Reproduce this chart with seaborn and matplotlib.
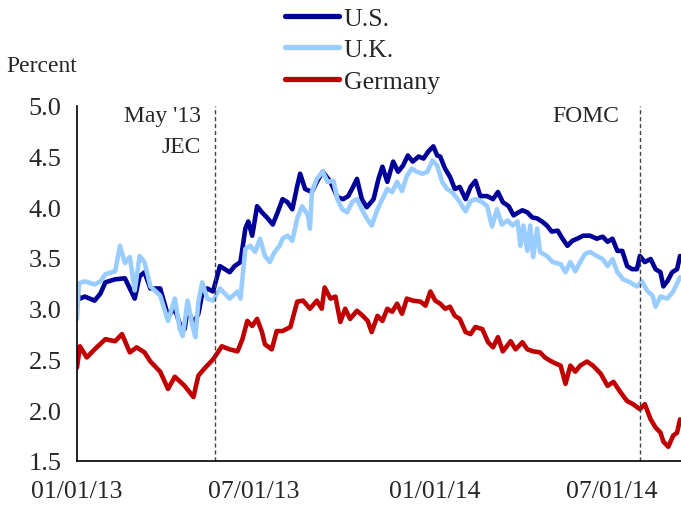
import pandas as pd
import matplotlib
matplotlib.use("Agg")
import matplotlib.pyplot as plt
import matplotlib.dates as mdates
import seaborn as sns

# 10-year government bond yields.
# Day offsets are counted from 01/01/13.
us_days = [0, 3, 8, 18, 24, 29, 39, 49, 54, 59, 64, 69, 75, 85, 93, 100, 105, 110, 113,
           119, 124, 128, 133, 139, 146, 156, 161, 167, 172, 175, 179, 184, 189, 194,
           200, 205, 210, 215, 220, 225, 228, 233, 240, 245, 251, 259, 266, 272, 277,
           281, 286, 291, 296, 303, 308, 312, 317, 323, 328, 333, 338, 343, 349, 354,
           359, 364, 368, 371, 376, 381, 386, 391, 397, 402, 407, 412, 419, 425, 430,
           435, 441, 446, 451, 455, 460, 465, 470, 475, 480, 485, 491, 496, 501, 506,
           511, 517, 524, 531, 537, 542, 547, 552, 557, 562, 567, 572, 575, 580, 586,
           591, 596, 599, 603, 608, 613, 616]
us_vals = [3.15, 3.10, 3.12, 3.08, 3.15, 3.26, 3.29, 3.30, 3.20, 3.10, 3.32, 3.36, 3.20,
           3.20, 2.93, 3.00, 2.85, 2.80, 3.00, 2.85, 2.95, 3.15, 3.20, 3.17, 3.42, 3.36,
           3.42, 3.46, 3.79, 3.86, 3.72, 4.01, 3.95, 3.90, 3.83, 3.95, 4.08, 4.05, 3.98,
           4.21, 4.33, 4.18, 4.15, 4.25, 4.35, 4.25, 4.10, 4.08, 4.11, 4.18, 4.28, 4.08,
           4.00, 4.08, 4.28, 4.40, 4.25, 4.45, 4.35, 4.41, 4.51, 4.45, 4.50, 4.48, 4.55,
           4.60, 4.51, 4.50, 4.38, 4.30, 4.18, 4.20, 4.08, 4.20, 4.26, 4.11, 4.11, 4.08,
           4.15, 4.05, 4.01, 3.92, 3.95, 3.97, 3.95, 3.90, 3.89, 3.86, 3.82, 3.76, 3.77,
           3.69, 3.62, 3.67, 3.69, 3.72, 3.72, 3.69, 3.71, 3.66, 3.69, 3.57, 3.57, 3.42,
           3.39, 3.39, 3.52, 3.46, 3.49, 3.39, 3.36, 3.22, 3.27, 3.36, 3.39, 3.52]

uk_days = [0, 2, 8, 18, 24, 29, 39, 44, 49, 54, 59, 64, 69, 75, 85, 93, 100, 105, 108,
           113, 118, 121, 124, 128, 133, 139, 146, 156, 164, 167, 172, 177, 182, 187,
           192, 197, 202, 207, 210, 215, 220, 225, 230, 236, 238, 240, 245, 251, 256,
           262, 266, 271, 276, 281, 286, 291, 296, 301, 307, 312, 317, 322, 327, 332,
           337, 342, 347, 353, 358, 363, 368, 373, 378, 383, 389, 397, 402, 407, 414,
           419, 424, 429, 434, 440, 445, 450, 453, 456, 460, 463, 466, 470, 473, 480,
           486, 494, 499, 504, 509, 514, 519, 524, 531, 537, 542, 547, 552, 558, 565,
           572, 577, 583, 588, 591, 596, 603, 609, 616]
uk_vals = [2.90, 3.25, 3.27, 3.24, 3.27, 3.34, 3.37, 3.62, 3.45, 3.51, 3.18, 3.52, 3.46,
           3.22, 3.13, 2.88, 3.10, 2.80, 2.73, 3.08, 2.83, 2.72, 3.07, 3.26, 3.10, 3.08,
           3.20, 3.10, 3.17, 3.10, 3.59, 3.62, 3.56, 3.69, 3.52, 3.46, 3.56, 3.62, 3.69,
           3.72, 3.67, 3.89, 4.01, 3.92, 3.79, 4.15, 4.28, 4.35, 4.25, 4.26, 4.08, 3.98,
           3.95, 4.05, 4.08, 3.98, 3.89, 3.82, 3.98, 4.08, 4.18, 4.15, 4.25, 4.16, 4.31,
           4.38, 4.35, 4.33, 4.35, 4.46, 4.41, 4.25, 4.18, 4.15, 4.08, 3.96, 4.06, 4.08,
           4.05, 4.01, 3.81, 3.98, 3.83, 3.87, 3.82, 3.86, 3.62, 3.82, 3.57, 3.82, 3.51,
           3.79, 3.56, 3.52, 3.46, 3.44, 3.36, 3.46, 3.37, 3.46, 3.54, 3.56, 3.52, 3.49,
           3.42, 3.49, 3.36, 3.29, 3.26, 3.22, 3.27, 3.17, 3.13, 3.02, 3.12, 3.10, 3.17,
           3.31]

de_days = [0, 3, 10, 18, 29, 39, 46, 54, 61, 69, 75, 85, 93, 100, 110, 119, 124, 131,
           139, 148, 156, 164, 169, 174, 179, 184, 189, 192, 199, 204, 210, 218, 225,
           231, 238, 245, 250, 253, 259, 264, 269, 274, 279, 286, 292, 297, 301, 307,
           312, 317, 322, 327, 332, 337, 343, 351, 356, 361, 366, 371, 376, 381, 386,
           391, 397, 402, 407, 414, 420, 425, 430, 435, 443, 448, 455, 460, 466, 473,
           478, 483, 489, 494, 499, 504, 509, 514, 521, 527, 535, 542, 548, 555, 562,
           568, 575, 580, 586, 591, 596, 599, 604, 609, 613, 616]
de_vals = [2.42, 2.63, 2.52, 2.60, 2.70, 2.68, 2.75, 2.57, 2.62, 2.57, 2.48, 2.38, 2.21,
           2.33, 2.24, 2.13, 2.34, 2.42, 2.50, 2.63, 2.60, 2.58, 2.70, 2.88, 2.83, 2.90,
           2.77, 2.65, 2.60, 2.78, 2.78, 2.82, 3.07, 3.08, 3.00, 3.08, 3.00, 3.21, 3.10,
           3.12, 2.87, 3.00, 2.90, 2.98, 2.93, 2.88, 2.77, 2.93, 2.88, 3.00, 2.97, 3.05,
           2.95, 3.10, 3.08, 3.07, 3.03, 3.17, 3.08, 3.05, 3.00, 3.02, 2.93, 2.90, 2.77,
           2.75, 2.82, 2.80, 2.67, 2.62, 2.72, 2.58, 2.68, 2.60, 2.67, 2.60, 2.58, 2.57,
           2.52, 2.49, 2.46, 2.44, 2.26, 2.44, 2.38, 2.44, 2.48, 2.44, 2.36, 2.24, 2.28,
           2.18, 2.09, 2.06, 2.01, 2.06, 1.91, 1.83, 1.78, 1.69, 1.64, 1.75, 1.78, 1.91]

countries = ["U.S.", "U.K.", "Germany"]
colors = ["#000099", "#99CCFF", "#C00000"]

start = pd.Timestamp("2013-01-01")
frames = []
for name, days, vals in [("U.S.", us_days, us_vals), ("U.K.", uk_days, uk_vals),
                         ("Germany", de_days, de_vals)]:
    frames.append(pd.DataFrame({
        "date": start + pd.to_timedelta(days, unit="D"),
        "value": vals,
        "country": name,
    }))
df = pd.concat(frames, ignore_index=True)

sns.set_style("white")
plt.rcParams["font.family"] = ["Liberation Serif", "DejaVu Serif"]

fig = plt.figure(figsize=(6.81, 5.06), dpi=100)
ax = fig.add_axes([0.113, 0.087, 0.887, 0.702])

sns.lineplot(data=df, x="date", y="value", hue="country", hue_order=countries,
             palette=colors, linewidth=3.3, ax=ax)
for line in ax.get_lines():
    line.set_solid_joinstyle("round")
    line.set_solid_capstyle("round")

# event lines
ax.axvline(pd.Timestamp("2013-05-22"), color="#444444", lw=1.0, ls=(0, (3, 2)))
ax.axvline(pd.Timestamp("2014-07-30"), color="#444444", lw=1.0, ls=(0, (3, 2)))

ax.set_xlim(start, start + pd.Timedelta(days=617))
ax.set_ylim(1.5, 5.0)
ax.set_yticks([1.5, 2.0, 2.5, 3.0, 3.5, 4.0, 4.5, 5.0])
ax.yaxis.set_major_formatter(plt.FormatStrFormatter("%.1f"))
ax.set_xticks([pd.Timestamp(d) for d in ["2013-01-01", "2013-07-01", "2014-01-01", "2014-07-01"]])
ax.xaxis.set_major_formatter(mdates.DateFormatter("%m/%d/%y"))
ax.set_xlabel("")
ax.set_ylabel("")

sns.despine(ax=ax)
for s in ["left", "bottom"]:
    ax.spines[s].set_linewidth(1.2)
    ax.spines[s].set_color("black")
ax.tick_params(axis="y", direction="in", length=6, width=1.2, pad=11, labelsize=19)
ax.tick_params(axis="x", direction="out", length=6, width=1.2, pad=8, labelsize=18.5)

ax.text(pd.Timestamp("2013-05-08"), 4.9, "May '13", ha="right", va="center", fontsize=17)
ax.text(pd.Timestamp("2013-05-08"), 4.6, "JEC", ha="right", va="center", fontsize=17)
ax.text(pd.Timestamp("2014-07-09"), 4.9, "FOMC", ha="right", va="center", fontsize=17)

fig.text(0.01, 1 - 67 / 506, "Percent", ha="left", va="center", fontsize=17)

leg = ax.legend(loc="upper left", bbox_to_anchor=(0.418, 0.985), bbox_transform=fig.transFigure,
                frameon=False, fontsize=18.5, handlelength=2.1, handletextpad=0.2,
                labelspacing=0.33, borderpad=0.0, borderaxespad=0.0)
for h in leg.get_lines():
    h.set_linewidth(3.8)
    h.set_solid_capstyle("round")

fig.savefig("out.png", dpi=100)
